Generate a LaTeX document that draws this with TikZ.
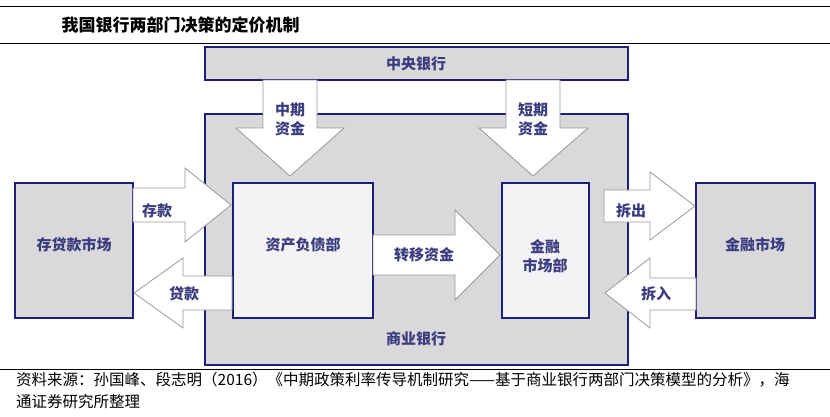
\documentclass[tikz,border=0pt]{standalone}
\usepackage{fontspec}
\setmainfont{Noto Sans CJK SC}
\usetikzlibrary{positioning}
\definecolor{navy}{HTML}{1F1F7A}
\definecolor{boxgray}{HTML}{D9D9DB}
\definecolor{innergray}{HTML}{F3F3F5}
\definecolor{txtblue}{HTML}{3B3B80}
\begin{document}
\begin{tikzpicture}[x=1pt,y=-1pt,
        box/.style={draw=navy, line width=1.4pt, fill=boxgray},
        dept/.style={draw=navy, line width=1.4pt, fill=innergray},
        bigarrow/.style={draw=gray!80, line width=0.8pt, fill=white},
        lbl/.style={text=txtblue, font=\bfseries\fontsize{15}{19}\selectfont, align=center, inner sep=0pt}
    ]
    \useasboundingbox (0,0) rectangle (830,416);
    % title
    \draw[line width=0.8pt] (0,6) -- (830,6);
    \node[anchor=west, font=\bfseries\fontsize{17}{19}\selectfont] (title) at (58,25) {我国银行两部门决策的定价机制};
    \draw[line width=0.8pt] (0,43) -- (830,43);
    % boxes
    \draw[box] (205,47) rectangle (628,80);
    \node[lbl] (pboc) at (416,64) {中央银行};
    \draw[box] (205,114) rectangle (628,365);
    \node[lbl] (bank) at (416,339) {商业银行};
    \draw[box] (15,183) rectangle (133,318);
    \node[lbl] (deposit) at (74,245) {存贷款市场};
    \draw[dept] (233,183) rectangle (373,318);
    \node[lbl] (alm) at (303,245) {资产负债部};
    \draw[dept] (502,183) rectangle (589,318);
    \node[lbl] (fmd) at (545,256) {金融\\市场部};
    \draw[box] (696,183) rectangle (815,318);
    \node[lbl] (market) at (755,245) {金融市场};
    % block arrows
    \draw[bigarrow] (263,80) -- (317,80) -- (317,128) -- (344,128) -- (290,176) -- (236,128) -- (263,128) -- cycle;
    \node[lbl] (mid) at (290,119) {中期\\资金};
    \draw[bigarrow] (506,80) -- (560,80) -- (560,128) -- (588,128) -- (533,176) -- (479,128) -- (506,128) -- cycle;
    \node[lbl] (short) at (533,119) {短期\\资金};
    \draw[bigarrow] (133,188) -- (185,188) -- (185,168) -- (231,205) -- (185,242) -- (185,222) -- (133,222) -- cycle;
    \node[lbl] (cun) at (157,211) {存款};
    \draw[bigarrow] (232,276) -- (183,276) -- (183,258) -- (134,293) -- (183,328) -- (183,310) -- (232,310) -- cycle;
    \node[lbl] (dai) at (184,294) {贷款};
    \draw[bigarrow] (373,235) -- (455,235) -- (455,210) -- (500,255) -- (455,300) -- (455,275) -- (373,275) -- cycle;
    \node[lbl] (transfer) at (424,255) {转移资金};
    \draw[bigarrow] (604,190) -- (650,190) -- (650,172) -- (695,206) -- (650,240) -- (650,222) -- (604,222) -- cycle;
    \node[lbl] (out) at (631,211) {拆出};
    \draw[bigarrow] (696,278) -- (650,278) -- (650,258) -- (605,293) -- (650,328) -- (650,310) -- (696,310) -- cycle;
    \node[lbl] (in) at (656,294) {拆入};
    % source
    \draw[line width=0.6pt] (0,369) -- (830,369);
    \node[anchor=north west, align=left, font=\fontsize{15.5}{22}\selectfont, inner sep=0pt] (source) at (16,372)
        {资料来源：孙国峰、段志明（2016）《中期政策利率传导机制研究——基于商业银行两部门决策模型的分析》，海\\通证券研究所整理};
\end{tikzpicture}
\end{document}
